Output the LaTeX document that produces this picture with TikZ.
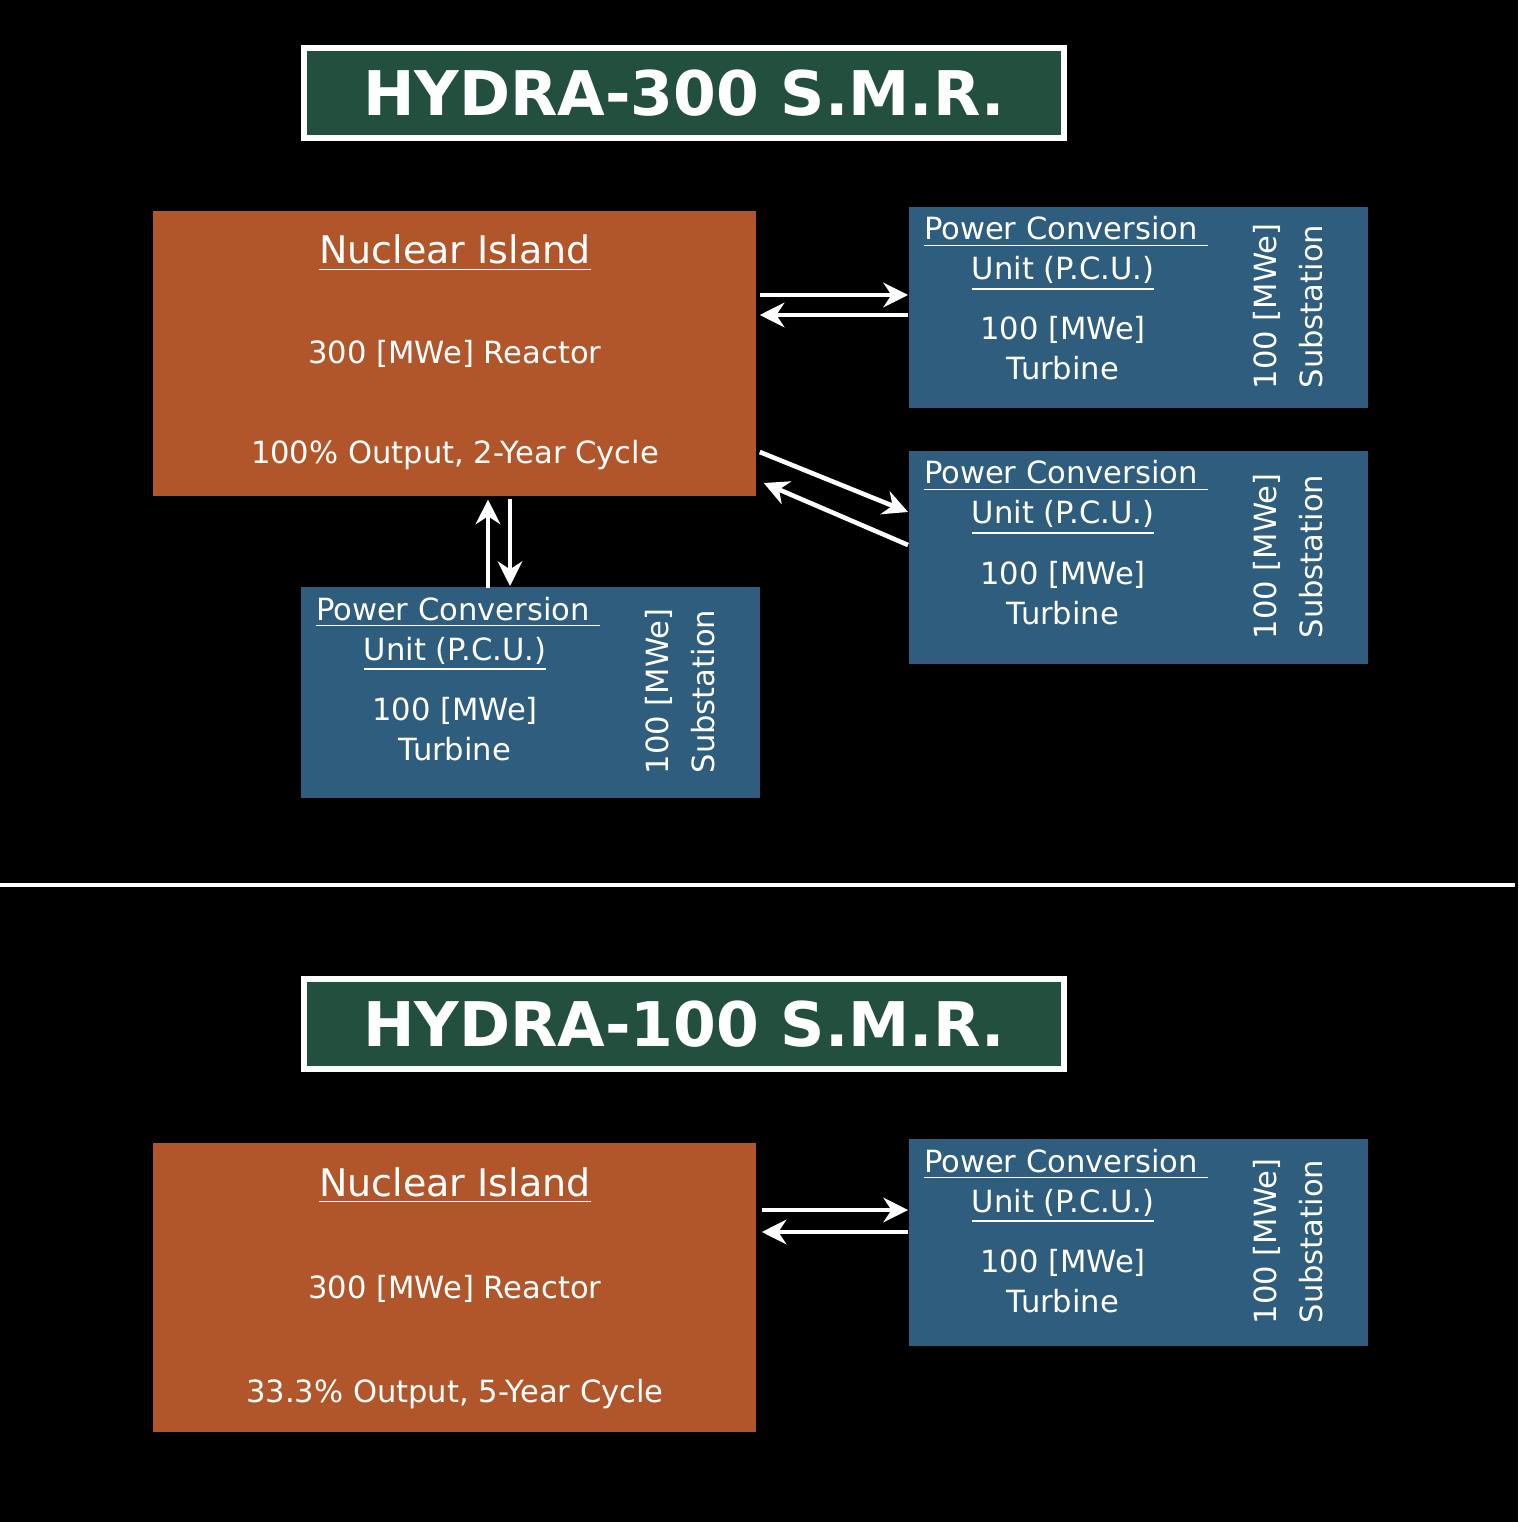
\documentclass[tikz,border=0pt]{standalone}
\usepackage{fontspec}
\setmainfont{DejaVu Sans}
\usetikzlibrary{arrows.meta,calc}
\definecolor{titlegreen}{HTML}{234F3E}
\definecolor{islandorange}{HTML}{B0562A}
\definecolor{pcublue}{HTML}{2E5D7E}
\tikzset{
  box/.style={anchor=north west,inner sep=0pt,draw=none},
  title/.style={box,fill=titlegreen,draw=white,line width=1.6pt,
    minimum width=7.6cm,minimum height=0.9cm,
    font=\fontsize{17.5}{18}\selectfont\bfseries,text=white},
  island/.style={box,fill=islandorange,minimum width=6.03cm},
  pcu/.style={box,fill=pcublue,minimum width=4.59cm},
  txt/.style={text=white,font=\fontsize{8.7}{10}\selectfont,inner sep=0pt},
  head/.style={txt,font=\fontsize{10.8}{12}\selectfont},
  flow/.style={white,line width=1.3pt,-{Stealth[length=7pt,width=7pt]}}
}
% a PCU block: name, x, y, height
\newcommand{\pcublock}[4]{
  \node[pcu,minimum height=#4*0.01cm] (#1) at (#2,#3) {};
  \node[txt,anchor=base] at ($(#1.north west)+(158,34)$) {\underline{Power Conversion\,\,}};
  \node[txt,anchor=base] at ($(#1.north west)+(155,74)$) {\underline{Unit (P.C.U.)}};
  \node[txt,anchor=base] at ($(#1.north west)+(155,134)$) {100 [MWe]};
  \node[txt,anchor=base] at ($(#1.north west)+(155,174)$) {Turbine};
  \node[txt,rotate=90,align=center] at ($(#1.north west)+(380,#4/2)$) {100 [MWe]\\[3pt]Substation};
}
\begin{document}
\begin{tikzpicture}[x=0.01cm,y=-0.01cm]
  \fill[black] (0,0) rectangle (1518,1522);
  \useasboundingbox (0,0) rectangle (1518,1522);
  % HYDRA-300
  \node[title] (t300) at (301,45) {HYDRA-300 S.M.R.};
  \node[island,minimum height=2.85cm] (ni1) at (152,210) {};
  \node[head,anchor=base] at (455,264) {\underline{Nuclear Island}};
  \node[txt,anchor=base] at (455,364) {300 [MWe] Reactor};
  \node[txt,anchor=base] at (455,464) {100\% Output, 2-Year Cycle};
  \pcublock{p1}{908}{206}{201}
  \pcublock{p2}{908}{450}{213}
  \pcublock{p3}{300}{586}{211}
  \draw[flow] ($(ni1.north east)+(3,85)$) -- ($(p1.north west)+(0,89)$);
  \draw[flow] ($(p1.north west)+(0,109)$) -- ($(ni1.north east)+(3,105)$);
  \draw[flow] ($(ni1.north east)+(3,242)$) -- ($(p2.north west)+(0,62)$);
  \draw[flow] ($(p2.north west)+(0,95)$) -- ($(ni1.north east)+(7,273)$);
  \draw[flow] ($(p3.north west)+(188,2)$) -- ($(ni1.south west)+(336,3)$);
  \draw[flow] ($(ni1.south west)+(358,2)$) -- ($(p3.north west)+(210,0)$);
  % separator
  \draw[white,line width=1.2pt] (0,885) -- (1515,885);
  % HYDRA-100
  \node[title] (t100) at (301,976) {HYDRA-100 S.M.R.};
  \node[island,minimum height=2.89cm] (ni2) at (152,1142) {};
  \node[head,anchor=base] at (455,1196) {\underline{Nuclear Island}};
  \node[txt,anchor=base] at (455,1298) {300 [MWe] Reactor};
  \node[txt,anchor=base] at (455,1402) {33.3\% Output, 5-Year Cycle};
  \pcublock{p4}{908}{1138}{207}
  \draw[flow] ($(ni2.north east)+(5,68)$) -- ($(p4.north west)+(0,72)$);
  \draw[flow] ($(p4.north west)+(0,94)$) -- ($(ni2.north east)+(5,90)$);
\end{tikzpicture}
\end{document}
